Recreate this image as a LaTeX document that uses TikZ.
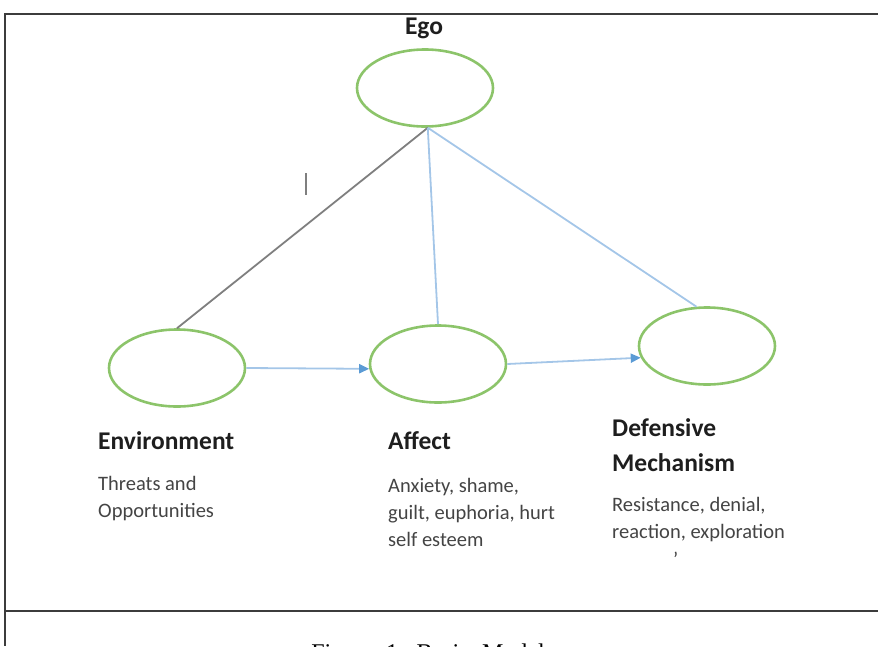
\documentclass[tikz,border=0pt]{standalone}
\usepackage{fontspec}
\setmainfont{Carlito}
\newfontfamily\capfont{Liberation Serif}
\usetikzlibrary{shapes.geometric,arrows.meta}
\definecolor{ringgreen}{HTML}{8CC46A}
\definecolor{linkblue}{HTML}{A4C6E8}
\definecolor{tipblue}{HTML}{5B9BD5}
\definecolor{linkgray}{HTML}{7F7F7F}
\definecolor{framegray}{HTML}{3C3C3C}
\definecolor{labelink}{HTML}{1E1E1E}
\definecolor{descink}{HTML}{444444}
\tikzset{
  ring/.style={ellipse, draw=ringgreen, line width=2.6pt, minimum width=136pt, minimum height=77pt, inner sep=0pt},
  bluelink/.style={draw=linkblue, line width=1.8pt},
  bluearrow/.style={bluelink, -{Triangle[length=10pt,width=9pt,color=tipblue]}},
  graylink/.style={draw=linkgray, line width=1.8pt},
  frameline/.style={draw=framegray, line width=2.6pt},
  headlabel/.style={anchor=base west, inner sep=0pt, text=labelink, font=\bfseries\fontsize{25.5}{35}\selectfont, align=left},
  desclabel/.style={anchor=base west, inner sep=0pt, text=descink, font=\fontsize{20.5}{27}\selectfont, align=left},
}
\begin{document}
\begin{tikzpicture}[x=1pt,y=-1pt]
\useasboundingbox (0,0) rectangle (878,646);
\clip (0,0) rectangle (878,646);
% frame
\coordinate (tl) at (5,14);
\coordinate (tr) at (878,14);
\coordinate (bl) at (5,646);
\coordinate (ml) at (5,611);
\coordinate (mr) at (878,611);
\draw[frameline] (tr) -- (tl) -- (bl);
\draw[frameline] (ml) -- (mr);
% ellipses
\node[ring] (ego) at (425,88) {};
\node[ring] (env) at (177,368) {};
\node[ring] (aff) at (438,364) {};
\node[ring] (def) at (707,346) {};
% connectors
\coordinate (hub) at (ego.274);
\draw[graylink] (hub) -- (env.north);
\draw[bluelink] (hub) -- (aff.north);
\draw[bluelink] (hub) -- (def.105);
\draw[bluearrow] (env.east) -- (aff.184);
\draw[bluearrow] (aff.east) -- (def.190);
% cursor mark
\coordinate (mk1) at (306,173);
\coordinate (mk2) at (306,195);
\draw[draw=linkgray, line width=1.8pt] (mk1) -- (mk2);
% labels (base anchor = baseline of the last line)
\node[headlabel, anchor=base] (egolbl) at (424,34) {Ego};
\node[headlabel] (envlbl) at (98,449) {Environment};
\node[desclabel] (envdesc) at (98,517) {Threats and\\Opportunities};
\node[headlabel] (afflbl) at (388,449) {Affect};
\node[desclabel] (affdesc) at (388,546) {Anxiety, shame,\\guilt, euphoria, hurt\\self esteem};
\node[headlabel] (deflbl) at (612,471) {Defensive\\Mechanism};
\node[desclabel] (defdesc) at (612,538) {Resistance, denial,\\reaction, exploration};
\node[desclabel] (dot) at (673,566) {'};
% caption (cut off at bottom)
\node[anchor=base, inner sep=0pt, font=\capfont\fontsize{24}{28}\selectfont] (cap) at (428,660) {Figure\ \ 1:\ \ Basic\ \ Model};
\end{tikzpicture}
\end{document}
